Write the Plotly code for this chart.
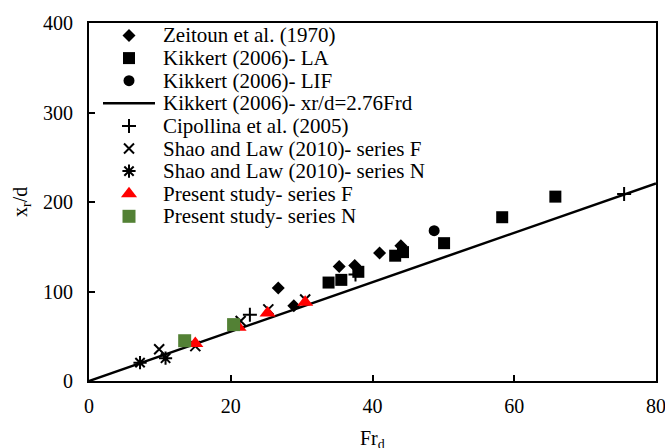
import plotly.graph_objects as go

# ---------------- data ----------------
zeitoun_x = [26.7, 28.9, 35.3, 37.5, 41.0, 44.0]
zeitoun_y = [104, 84, 128, 129, 143, 151]

kikkert_la_x = [33.8, 35.6, 38.0, 43.2, 44.3, 50.1, 58.3, 65.8]
kikkert_la_y = [110, 113, 122, 140, 144, 154, 183, 206]

kikkert_lif_x = [48.7]
kikkert_lif_y = [168]

fit_coef = 2.76
fit_x = [0, 80]
fit_y = [fit_coef * v for v in fit_x]

cipollina_x = [22.7, 37.6, 75.5]
cipollina_y = [74, 119, 209]

shao_f_x = [9.9, 15.0, 21.4, 25.3, 30.5]
shao_f_y = [35.5, 39, 67, 80, 91]

shao_n_x = [7.2, 10.8]
shao_n_y = [20.5, 25.5]

present_f_x = [15.0, 21.1, 25.2, 30.5]
present_f_y = [42, 60, 76, 88]

present_n_x = [13.5, 20.4]
present_n_y = [45, 63]

legend_labels = [
    "Zeitoun et al. (1970)",
    "Kikkert (2006)- LA",
    "Kikkert (2006)- LIF",
    "Kikkert (2006)- xr/d=2.76Frd",
    "Cipollina et al. (2005)",
    "Shao and Law (2010)- series F",
    "Shao and Law (2010)- series N",
    "Present study- series F",
    "Present study- series N",
]

x_ticks = [0, 20, 40, 60, 80]
y_ticks = [0, 100, 200, 300, 400]

# ---------------- styles ----------------
FONT = "Liberation Serif"
GREEN = "#538135"
RED = "#FF0000"

styles = [
    dict(mode="markers", marker=dict(symbol="diamond", size=10, color="black")),
    dict(mode="markers", marker=dict(symbol="square", size=12, color="black")),
    dict(mode="markers", marker=dict(symbol="circle", size=11, color="black")),
    dict(mode="lines", line=dict(color="black", width=2.5)),
    dict(mode="markers", marker=dict(symbol="cross-thin", size=10,
                                     line=dict(color="black", width=2))),
    dict(mode="markers", marker=dict(symbol="x-thin", size=10,
                                     line=dict(color="black", width=2))),
    dict(mode="markers", marker=dict(symbol="asterisk", size=11,
                                     line=dict(color="black", width=2))),
    dict(mode="markers", marker=dict(symbol="triangle-up", size=14, color=RED)),
    dict(mode="markers", marker=dict(symbol="square", size=13, color=GREEN)),
]

series = [
    (zeitoun_x, zeitoun_y),
    (kikkert_la_x, kikkert_la_y),
    (kikkert_lif_x, kikkert_lif_y),
    (fit_x, fit_y),
    (cipollina_x, cipollina_y),
    (shao_f_x, shao_f_y),
    (shao_n_x, shao_n_y),
    (present_f_x, present_f_y),
    (present_n_x, present_n_y),
]

W, H = 665, 448
L, R, T, B = 89, 656, 23, 381

fig = go.Figure()
for (xs, ys), st, name in zip(series, styles, legend_labels):
    fig.add_trace(go.Scatter(x=xs, y=ys, name=name, showlegend=False,
                             cliponaxis=False, **st))

# ---------------- manual legend (pixel layout on hidden axes) ----------------
row0, row_gap = 35.5, 22.6
key_x = 129
text_x = 161
for i, (st, name) in enumerate(zip(styles, legend_labels)):
    ry = row0 + i * row_gap
    if st["mode"] == "lines":
        fig.add_trace(go.Scatter(x=[103, 155], y=[ry, ry], mode="lines",
                                 line=st["line"], xaxis="x2", yaxis="y2",
                                 showlegend=False, hoverinfo="skip"))
    else:
        fig.add_trace(go.Scatter(x=[key_x], y=[ry], mode="markers",
                                 marker=st["marker"], xaxis="x2", yaxis="y2",
                                 showlegend=False, hoverinfo="skip"))
    fig.add_annotation(x=(text_x - L) / (R - L), y=(B - ry) / (B - T),
                       xref="paper", yref="paper", xanchor="left",
                       yanchor="middle", text=name, showarrow=False,
                       font=dict(family=FONT, size=21, color="black"))

axis_common = dict(showgrid=False, zeroline=False, showline=True,
                   linecolor="black", linewidth=2, mirror=True,
                   ticks="inside", ticklen=6, tickwidth=1.5, tickcolor="black",
                   automargin=False, ticklabeloverflow="allow",
                   tickfont=dict(family=FONT, size=20, color="black"))

fig.update_layout(
    width=W, height=H,
    margin=dict(l=L, r=W - R, t=T, b=H - B, pad=0, autoexpand=False),
    paper_bgcolor="white", plot_bgcolor="white",
    xaxis=dict(range=[0, 80], tickvals=x_ticks, ticklabelstandoff=6,
               **axis_common),
    yaxis=dict(range=[0, 400], tickvals=y_ticks, ticklabelstandoff=10,
               **axis_common),
    xaxis2=dict(range=[L, R], overlaying="x", visible=False, anchor="y2"),
    yaxis2=dict(range=[B, T], overlaying="y", visible=False, anchor="x2"),
)

# axis titles
fig.add_annotation(x=0.5, y=(B - 439) / (B - T), xref="paper", yref="paper",
                   xanchor="center", yanchor="middle",
                   text="Fr<sub>d</sub>", showarrow=False,
                   font=dict(family=FONT, size=20, color="black"))
fig.add_annotation(x=(21 - L) / (R - L), y=0.5, xref="paper", yref="paper",
                   xanchor="center", yanchor="middle",
                   text="x<sub>r</sub>/d", showarrow=False, textangle=-90,
                   font=dict(family=FONT, size=20, color="black"))

fig.write_html("out.html",
               config={"displayModeBar": False},
               post_script="document.body.style.margin='0';"
                           "document.body.style.padding='0';")
